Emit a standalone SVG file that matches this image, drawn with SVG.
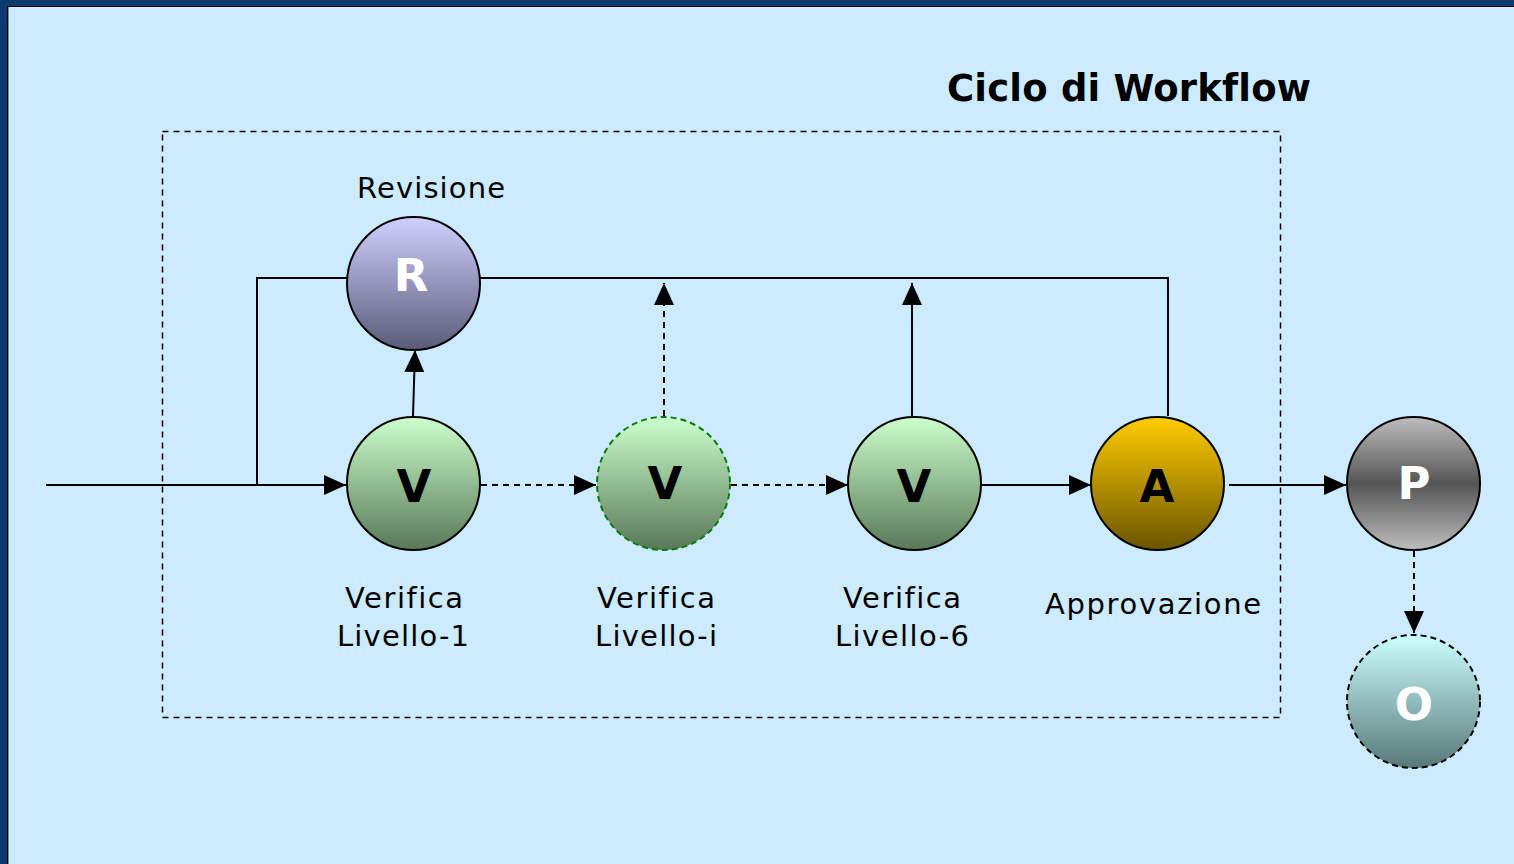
<svg xmlns="http://www.w3.org/2000/svg" width="1514" height="864" viewBox="0 0 1514 864">
<style>
.t{font-family:"DejaVu Sans","Verdana",sans-serif;fill:#000;font-variant-ligatures:none}
.lbl{font-size:29px;text-anchor:middle}
.big{font-size:45px;font-weight:bold;text-anchor:middle}
.w{fill:#fff}
.c{stroke:#000;stroke-width:2}
.ln{fill:none;stroke:#000;stroke-width:2}
.dsh{stroke-dasharray:6,5}
</style>
<defs>
<linearGradient id="gR" x1="0" y1="0" x2="0" y2="1"><stop offset="0" stop-color="#d0d0ff"/><stop offset="1" stop-color="#5a5a78"/></linearGradient>
<linearGradient id="gV" x1="0" y1="0" x2="0" y2="1"><stop offset="0" stop-color="#ccffcc"/><stop offset="1" stop-color="#587858"/></linearGradient>
<linearGradient id="gA" x1="0" y1="0" x2="0" y2="1"><stop offset="0" stop-color="#ffcc00"/><stop offset="1" stop-color="#6b5400"/></linearGradient>
<linearGradient id="gP" x1="0" y1="0" x2="0" y2="1"><stop offset="0" stop-color="#bdbdbd"/><stop offset="0.5" stop-color="#555555"/><stop offset="1" stop-color="#bdbdbd"/></linearGradient>
<linearGradient id="gO" x1="0" y1="0" x2="0" y2="1"><stop offset="0" stop-color="#ccffff"/><stop offset="1" stop-color="#587878"/></linearGradient>
<marker id="ah" viewBox="0 0 10 10" refX="10" refY="5" markerWidth="22" markerHeight="20" markerUnits="userSpaceOnUse" orient="auto" preserveAspectRatio="none">
<path d="M0,0 L10,5 L0,10 Z" fill="#000"/>
</marker>
</defs>
<rect x="0" y="0" width="1514" height="864" fill="#0b3a6e"/>
<rect x="7" y="6" width="1507" height="858" fill="#000"/>
<rect x="8" y="7" width="1506" height="857" fill="#7a8a99"/>
<rect x="9" y="7" width="1505" height="857" fill="#cdebff"/>

<text class="t" x="1129" y="101" font-size="37" font-weight="bold" text-anchor="middle" textLength="364" lengthAdjust="spacing">Ciclo di Workflow</text>
<rect x="162.5" y="131.5" width="1118" height="586" fill="none" stroke="#000" stroke-width="1.5" stroke-dasharray="6,5"/>

<g id="connectors">
<path class="ln" d="M46,485 H257"/>
<path class="ln" d="M257,485 H346" marker-end="url(#ah)"/>
<path class="ln" d="M257,485 V278 H347"/>
<path class="ln" d="M480,278 H1168 V416"/>
<path class="ln" d="M413,416 L415,350" marker-end="url(#ah)"/>
<path class="ln dsh" d="M664,416 V283" marker-end="url(#ah)"/>
<path class="ln" d="M912,416 V283" marker-end="url(#ah)"/>
<path class="ln dsh" d="M481,485 H596" marker-end="url(#ah)"/>
<path class="ln dsh" d="M731,485 H848" marker-end="url(#ah)"/>
<path class="ln" d="M981,485 H1091" marker-end="url(#ah)"/>
<path class="ln" d="M1229,485 H1346" marker-end="url(#ah)"/>
<path class="ln dsh" d="M1414,551 V633" marker-end="url(#ah)"/>
</g>

<g id="nodeR">
<circle class="c" cx="413.5" cy="283.5" r="66.5" fill="url(#gR)"/>
<text class="t big w" x="411" y="291">R</text>
<text class="t lbl" x="431" y="198" textLength="148" lengthAdjust="spacing">Revisione</text>
</g>
<g id="nodeV1">
<circle class="c" cx="413.5" cy="483.5" r="66.5" fill="url(#gV)"/>
<text class="t big" x="414" y="502">V</text>
<text class="t lbl" x="404" y="608" textLength="118" lengthAdjust="spacing">Verifica</text>
<text class="t lbl" x="403" y="646" textLength="132" lengthAdjust="spacing">Livello-1</text>
</g>
<g id="nodeVi">
<circle cx="663.5" cy="483.5" r="66.5" fill="url(#gV)" stroke="#0a7a0a" stroke-width="2" stroke-dasharray="6,4"/>
<text class="t big" x="665" y="499">V</text>
<text class="t lbl" x="656" y="608" textLength="118" lengthAdjust="spacing">Verifica</text>
<text class="t lbl" x="656" y="646" textLength="122" lengthAdjust="spacing">Livello-i</text>
</g>
<g id="nodeV6">
<circle class="c" cx="914.5" cy="483.5" r="66.5" fill="url(#gV)"/>
<text class="t big" x="914" y="502">V</text>
<text class="t lbl" x="902" y="608" textLength="118" lengthAdjust="spacing">Verifica</text>
<text class="t lbl" x="902" y="646" textLength="134" lengthAdjust="spacing">Livello-6</text>
</g>
<g id="nodeA">
<circle class="c" cx="1157.5" cy="483.5" r="66.5" fill="url(#gA)"/>
<text class="t big" x="1157" y="502">A</text>
<text class="t lbl" x="1153" y="614" textLength="216" lengthAdjust="spacing">Approvazione</text>
</g>
<g id="nodeP">
<circle class="c" cx="1413.5" cy="483.5" r="66.5" fill="url(#gP)"/>
<text class="t big w" x="1414" y="499">P</text>
</g>
<g id="nodeO">
<circle cx="1413.5" cy="701.5" r="66.5" fill="url(#gO)" stroke="#000" stroke-width="2" stroke-dasharray="6,4"/>
<text class="t big w" x="1414" y="720">O</text>
</g>
</svg>
